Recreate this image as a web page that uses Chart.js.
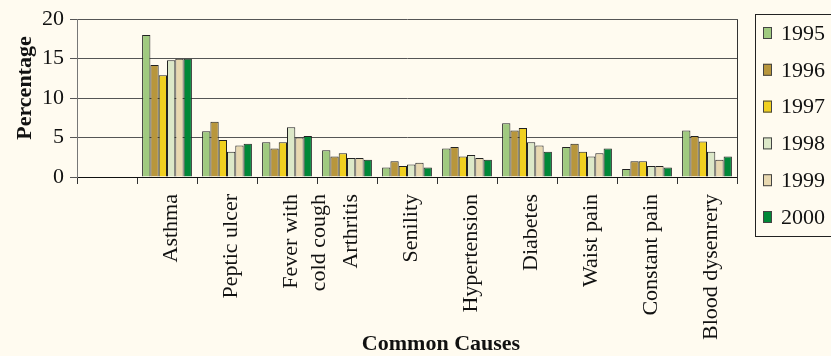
<!DOCTYPE html>
<html>
<head>
<meta charset="utf-8">
<script src="https://cdn.jsdelivr.net/npm/chart.js@4/dist/chart.umd.min.js"></script>
<style>
  html, body { margin: 0; padding: 0; background: #fffbf0; }
  #wrap { width: 831px; height: 356px; position: relative; }
</style>
</head>
<body>
<div id="wrap"><canvas id="c"></canvas></div>
<script>
// Common causes of illness, share of cases (%) per year
const causes = ['', 'Asthma', 'Peptic ulcer', ['Fever with', 'cold cough'], 'Arthritis', 'Senility',
  'Hypertension', 'Diabetes', 'Waist pain', 'Constant pain', 'Blood dysenrery'];
const years = ['1995', '1996', '1997', '1998', '1999', '2000'];

const v1995 = [null, 18.0, 5.8, 4.4, 3.4, 1.2, 3.6, 6.8, 3.8, 1.0, 5.9];
const v1996 = [null, 14.2, 7.0, 3.6, 2.6, 2.0, 3.8, 5.9, 4.2, 2.0, 5.2];
const v1997 = [null, 12.9, 4.7, 4.4, 3.0, 1.4, 2.6, 6.2, 3.2, 2.0, 4.5];
const v1998 = [null, 14.8, 3.2, 6.3, 2.4, 1.6, 2.8, 4.4, 2.6, 1.4, 3.2];
const v1999 = [null, 15.0, 4.0, 5.0, 2.4, 1.8, 2.4, 4.0, 3.0, 1.4, 2.2];
const v2000 = [null, 15.0, 4.2, 5.2, 2.2, 1.2, 2.2, 3.2, 3.6, 1.2, 2.6];

const yTicks = [0, 5, 10, 15, 20];
const yTitle = 'Percentage';
const xTitle = 'Common Causes';

const seriesValues = [v1995, v1996, v1997, v1998, v1999, v2000];
const seriesColors = ['#a0ca80', '#b8963c', '#f0d020', '#dce8c8', '#e8d8b0', '#008838'];

const FONT = 'Liberation Serif, Times New Roman, serif';

// Framed legend box on the right
const boxLegend = {
  id: 'boxLegend',
  afterDraw(chart) {
    const ctx = chart.ctx;
    ctx.save();
    ctx.strokeStyle = '#222';
    ctx.lineWidth = 1;
    ctx.strokeRect(755.5, 14.5, 100, 222);
    ctx.font = '22px ' + FONT;
    ctx.textBaseline = 'middle';
    ctx.textAlign = 'left';
    chart.data.datasets.forEach((ds, i) => {
      const cy = 33 + i * 36.8;
      ctx.fillStyle = ds.backgroundColor;
      ctx.fillRect(763, cy - 6, 9, 12);
      ctx.strokeStyle = '#444';
      ctx.strokeRect(763.5, cy - 5.5, 8, 11);
      ctx.fillStyle = '#111';
      ctx.fillText(ds.label, 781, cy + 1);
    });
    ctx.restore();
  }
};

// Right frame line of the plot and the two axis titles
const frameAndTitles = {
  id: 'frameAndTitles',
  afterDraw(chart) {
    const { ctx, chartArea } = chart;
    ctx.save();
    ctx.strokeStyle = '#333';
    ctx.lineWidth = 1;
    const xr = Math.round(chartArea.right) + 0.5;
    ctx.beginPath();
    ctx.moveTo(xr, chartArea.top);
    ctx.lineTo(xr, chartArea.bottom + 7);
    ctx.stroke();

    ctx.fillStyle = '#111';
    ctx.font = 'bold 22px ' + FONT;
    ctx.textAlign = 'center';
    ctx.textBaseline = 'alphabetic';
    ctx.fillText(xTitle, 441, 350);

    ctx.translate(31, 88);
    ctx.rotate(-Math.PI / 2);
    ctx.fillText(yTitle, 0, 0);
    ctx.restore();
  }
};

const bg = {
  id: 'bg',
  beforeDraw(chart) {
    const ctx = chart.ctx;
    ctx.save();
    ctx.fillStyle = '#fffbf0';
    ctx.fillRect(0, 0, chart.width, chart.height);
    ctx.restore();
  }
};

new Chart(document.getElementById('c'), {
  type: 'bar',
  data: {
    labels: causes,
    datasets: years.map((y, i) => ({
      label: y,
      data: seriesValues[i],
      backgroundColor: seriesColors[i],
      borderColor: '#222',
      borderWidth: 1,
      categoryPercentage: 0.83,
      barPercentage: 1.0
    }))
  },
  options: {
    responsive: true,
    maintainAspectRatio: false,
    animation: false,
    layout: { padding: { left: 0, top: 16, right: 94, bottom: 0 } },
    plugins: {
      legend: { display: false },
      tooltip: { enabled: false }
    },
    scales: {
      x: {
        type: 'category',
        offset: true,
        afterFit(scale) { scale.height = 179; },
        grid: {
          offset: true,
          drawOnChartArea: false,
          drawTicks: true,
          tickLength: 7,
          color: '#333'
        },
        border: { color: '#111', width: 1 },
        ticks: {
          autoSkip: false,
          maxRotation: 90,
          minRotation: 90,
          padding: 10,
          labelOffset: 4,
          color: '#111',
          font: { family: FONT, size: 22, lineHeight: 1.3 }
        }
      },
      y: {
        min: 0,
        max: 20,
        afterFit(scale) { scale.width = 77; },
        afterBuildTicks(scale) { scale.ticks = yTicks.map(v => ({ value: v })); },
        grid: {
          color: '#555',
          lineWidth: 1,
          tickLength: 7,
          drawTicks: true
        },
        border: { color: '#777', width: 1 },
        ticks: {
          padding: 6,
          color: '#111',
          font: { family: FONT, size: 22 }
        }
      }
    }
  },
  plugins: [bg, boxLegend, frameAndTitles]
});
</script>
</body>
</html>
